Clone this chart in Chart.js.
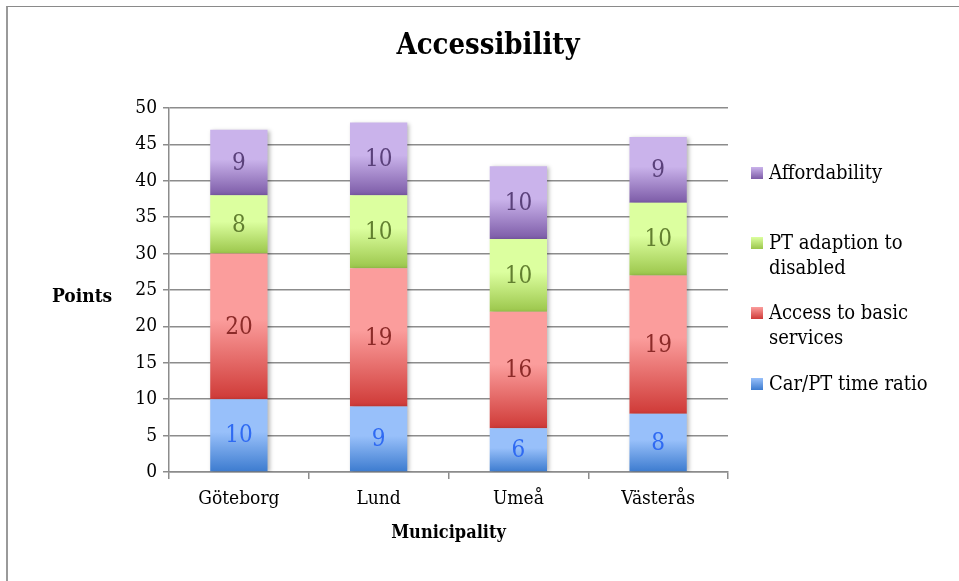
<!DOCTYPE html>
<html>
<head>
<meta charset="utf-8">
<script src="https://cdn.jsdelivr.net/npm/chart.js@4"></script>
<style>
    body { margin: 0; background: #fff; font-family: "DejaVu Serif Condensed", "DejaVu Serif", serif; }
    .wrap { position: relative; width: 959px; height: 581px; overflow: hidden; }
    .frame { position: absolute; left: 6px; top: 6px; width: 1000px; height: 700px;
             border-top: 1px solid #8a8a8a; border-left: 2px solid #9a9a9a; }
    canvas { position: absolute; left: 0; top: 0; }
    .title { position: absolute; left: 0; width: 976px; top: 27px; text-align: center;
             font-weight: bold; font-size: 29px; color: #000; }
    .ytitle { position: absolute; left: 52px; top: 284px; font-weight: bold; font-size: 19px; }
    .legend { position: absolute; left: 751px; top: 0; font-size: 20px; color: #000; }
    .legend .item { position: absolute; left: 0; white-space: nowrap; line-height: 25px; }
    .legend .sw { position: absolute; left: 0; width: 12px; height: 12px; }
    .legend .txt { position: absolute; left: 18px; }
</style>
</head>
<body>
<div class="wrap">
    <div class="frame"></div>
    <canvas id="chart" width="959" height="581"></canvas>
    <div class="title">Accessibility</div>
    <div class="ytitle">Points</div>
    <div class="legend" id="legend"></div>
</div>
<script>
// Data
const municipalities = ['Göteborg', 'Lund', 'Umeå', 'Västerås'];
const carPtRatio = [10, 9, 6, 8];
const basicServices = [20, 19, 16, 19];
const ptDisabled = [8, 10, 10, 10];
const affordability = [9, 10, 10, 9];
const yTicks = [0, 5, 10, 15, 20, 25, 30, 35, 40, 45, 50];

const FONT = '"DejaVu Serif Condensed", "DejaVu Serif", serif';

// light (top) / dark (bottom) gradient stops and label colour per series
const seriesStyle = [
    { name: 'Car/PT time ratio', light: '#98c0fa', dark: '#3c7bcf', text: '#2f6af2' },
    { name: 'Access to basic services', light: '#fb9d9c', dark: '#cf3a37', text: '#8c2b29' },
    { name: 'PT adaption to disabled', light: '#dcff9f', dark: '#9bc64b', text: '#627f30' },
    { name: 'Affordability', light: '#cab3eb', dark: '#7c5ba7', text: '#5a417a' }
];
const seriesData = [carPtRatio, basicServices, ptDisabled, affordability];

function segmentGradient(ctx) {
    const chart = ctx.chart;
    const style = seriesStyle[ctx.datasetIndex];
    if (!chart.chartArea || ctx.dataIndex === undefined) return style.dark;
    const y = chart.scales.y;
    let base = 0;
    for (let d = 0; d < ctx.datasetIndex; d++) base += seriesData[d][ctx.dataIndex];
    const top = base + seriesData[ctx.datasetIndex][ctx.dataIndex];
    const g = chart.ctx.createLinearGradient(0, y.getPixelForValue(top), 0, y.getPixelForValue(base));
    g.addColorStop(0, style.light);
    g.addColorStop(0.45, style.light);
    g.addColorStop(1, style.dark);
    return g;
}

// Soft shadow behind the bars
const barShadow = {
    id: 'barShadow',
    beforeDatasetsDraw(chart) {
        const c = chart.ctx;
        c.save();
        c.shadowColor = 'rgba(0,0,0,0.28)';
        c.shadowBlur = 4;
        c.shadowOffsetX = 2;
        c.shadowOffsetY = 1;
    },
    afterDatasetsDraw(chart) {
        chart.ctx.restore();
    }
};

// Value labels centred in each segment
const segmentLabels = {
    id: 'segmentLabels',
    afterDatasetsDraw(chart) {
        const c = chart.ctx;
        c.save();
        c.font = '24px ' + FONT;
        c.textAlign = 'center';
        c.textBaseline = 'middle';
        chart.data.datasets.forEach((ds, di) => {
            const meta = chart.getDatasetMeta(di);
            c.fillStyle = seriesStyle[di].text;
            meta.data.forEach((bar, i) => {
                c.fillText(String(ds.data[i]), bar.x, (bar.y + bar.base) / 2 + 1);
            });
        });
        c.restore();
    }
};

const ctx = document.getElementById('chart').getContext('2d');
new Chart(ctx, {
    type: 'bar',
    data: {
        labels: municipalities,
        datasets: seriesData.map((d, i) => ({
            label: seriesStyle[i].name,
            data: d,
            backgroundColor: segmentGradient,
            borderWidth: 0,
            barPercentage: 0.41,
            categoryPercentage: 1
        }))
    },
    options: {
        responsive: false,
        animation: false,
        layout: { padding: { top: 108, right: 231, left: 0, bottom: 0 } },
        plugins: {
            legend: { display: false },
            tooltip: { enabled: false }
        },
        scales: {
            x: {
                stacked: true,
                afterFit: (scale) => { scale.height = 109; },
                grid: { offset: true, drawOnChartArea: false, color: '#8c8c8c', lineWidth: 1.5, tickLength: 7 },
                border: { color: '#8c8c8c', width: 1.5 },
                ticks: { color: '#000', padding: 9, font: { family: FONT, size: 19 } },
                title: {
                    display: true, text: 'Municipality', color: '#000',
                    padding: { top: 0, bottom: 37 },
                    font: { family: FONT, size: 18, weight: 'bold' }
                }
            },
            y: {
                stacked: true,
                min: 0,
                max: 50,
                afterFit: (scale) => { scale.width = 169; },
                afterBuildTicks: (scale) => { scale.ticks = yTicks.map(v => ({ value: v })); },
                grid: { color: '#8c8c8c', lineWidth: 1.5, tickLength: 6 },
                border: { color: '#8c8c8c', width: 1.5 },
                ticks: { color: '#000', padding: 6, font: { family: FONT, size: 19 } }
            }
        }
    },
    plugins: [barShadow, segmentLabels]
});

// Legend on the right, top item is the top of the stack
const legendRows = [
    { idx: 3, top: 160, lines: ['Affordability'] },
    { idx: 2, top: 230, lines: ['PT adaption to', 'disabled'] },
    { idx: 1, top: 300, lines: ['Access to basic', 'services'] },
    { idx: 0, top: 371, lines: ['Car/PT time ratio'] }
];
const legendEl = document.getElementById('legend');
legendRows.forEach(row => {
    const s = seriesStyle[row.idx];
    const item = document.createElement('div');
    item.className = 'item';
    item.style.top = row.top + 'px';
    item.innerHTML = `<div class="sw" style="top:7px;background:linear-gradient(${s.light}, ${s.dark})"></div>` +
        `<div class="txt">${row.lines.join('<br>')}</div>`;
    legendEl.appendChild(item);
});
</script>
</body>
</html>
